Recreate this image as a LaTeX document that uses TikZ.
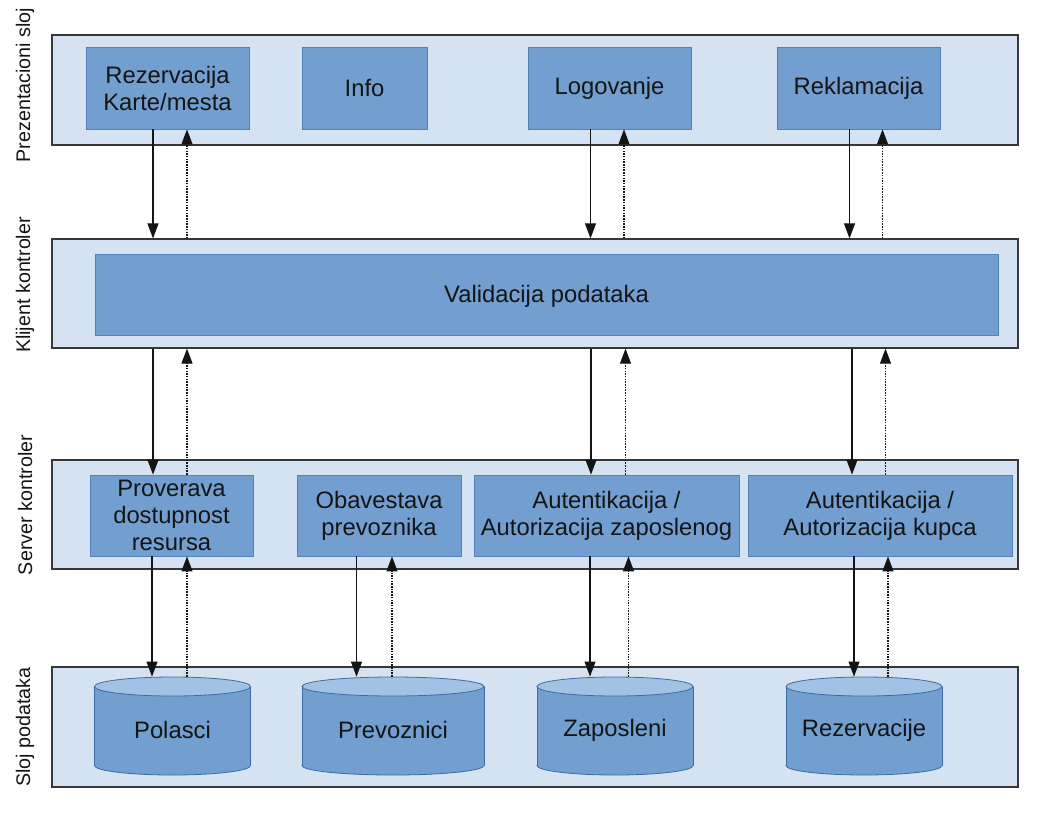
\documentclass[tikz,border=0pt]{standalone}
\usepackage{fontspec}
\setmainfont{Liberation Sans}
\usetikzlibrary{arrows.meta,shapes.geometric}

\definecolor{bandfill}{RGB}{213,226,242}
\definecolor{boxfill}{RGB}{114,159,207}
\definecolor{boxline}{RGB}{84,128,184}
\definecolor{cyltop}{RGB}{162,194,228}
\definecolor{cylline}{RGB}{64,106,162}
\definecolor{edgegray}{RGB}{55,55,55}
\definecolor{inkblack}{RGB}{20,20,20}

% database cylinder: name, centre x, width, label
\newcommand{\datastore}[4]{%
  \filldraw[fill=boxfill, draw=cylline, line width=0.8pt]
    (#2,765.5) ellipse[x radius=#3/2, y radius=9.5];
  \fill[boxfill] (#2-#3/2,686.5) rectangle (#2+#3/2,765.5);
  \draw[cylline, line width=0.8pt]
    (#2-#3/2,686.5) -- (#2-#3/2,765.5)
    (#2+#3/2,686.5) -- (#2+#3/2,765.5);
  \node[cyltopstyle, minimum width=#3pt] (#1) at (#2,686.5) {};
  \node[comptext] (#1-label) at (#2,730) {#4};
}

% vertical request / response connectors at a given x
\newcommand{\req}[3]{\draw[reqline] (#1,0 |- #2) -- (#1,0 |- #3);}
\newcommand{\resp}[3]{\draw[respline] (#1,0 |- #2) -- (#1,0 |- #3);}

\begin{document}
\begin{tikzpicture}[x=1pt,y=-1pt,
  band/.style={draw=edgegray, line width=1.2pt, fill=bandfill,
    minimum width=966pt, inner sep=0pt},
  comptext/.style={inner sep=0pt, align=center, text=inkblack,
    font=\fontsize{23.8}{27}\selectfont},
  comp/.style={comptext, draw=boxline, line width=0.8pt, fill=boxfill},
  cyltopstyle/.style={ellipse, draw=cylline, line width=0.8pt, fill=cyltop,
    inner sep=0pt, minimum height=19pt},
  layer/.style={rotate=90, inner sep=0pt, text=inkblack,
    font=\fontsize{19.7}{22}\selectfont},
  reqline/.style={draw=inkblack, line width=1.1pt,
    -{Triangle[length=15pt,width=11pt]}},
  respline/.style={draw=inkblack, line width=1.1pt,
    dash pattern=on 1.5pt off 1.2pt,
    -{Triangle[length=15pt,width=11pt]}}
]
\useasboundingbox (0,0) rectangle (1056,816);

% layer bands
\node[band, minimum height=110pt] (pband) at (535,90) {};
\node[band, minimum height=109pt] (kband) at (535,293.5) {};
\node[band, minimum height=109pt] (sband) at (535,514.5) {};
\node[band, minimum height=120pt] (dband) at (535,727) {};

% layer titles
\node[layer] (lp) at (25,85) {Prezentacioni sloj};
\node[layer] (lk) at (25,285) {Klijent kontroler};
\node[layer] (ls) at (25,505) {Server kontroler};
\node[layer] (ld) at (25,727) {Sloj podataka};

% presentation layer
\node[comp, minimum width=163pt, minimum height=82pt] (rez) at (167.5,88) {Rezervacija\\Karte/mesta};
\node[comp, minimum width=125pt, minimum height=82pt] (info) at (364.5,88) {Info};
\node[comp, minimum width=163pt, minimum height=82pt] (logo) at (609.5,88) {Logovanje};
\node[comp, minimum width=163pt, minimum height=82pt] (rekl) at (858.5,88) {Reklamacija};

% client controller
\node[comp, minimum width=903pt, minimum height=81pt, text depth=2pt] (valid) at (546.5,294.5) {Validacija podataka};

% server controller
\node[comp, minimum width=163pt, minimum height=81pt] (prov) at (171.5,515.5) {Proverava\\dostupnost\\resursa};
\node[comp, minimum width=164pt, minimum height=81pt] (obav) at (379,515.5) {Obavestava\\prevoznika};
\node[comp, minimum width=265pt, minimum height=81pt] (autz) at (606.5,515.5) {Autentikacija /\\Autorizacija zaposlenog};
\node[comp, minimum width=264pt, minimum height=81pt] (autk) at (880,515.5) {Autentikacija /\\Autorizacija kupca};

% data layer
\datastore{polasci}{172.5}{156}{Polasci}
\datastore{prevoznici}{393}{182}{Prevoznici}
\datastore{zaposleni}{615}{156}{Zaposleni}
\datastore{rezervacije}{864}{156}{Rezervacije}

% requests (down)
\req{153}{rez.south}{kband.north}
\req{153}{kband.south}{prov.north}
\req{152}{prov.south}{polasci.north}
\req{356.5}{obav.south}{prevoznici.north}
\req{590.5}{logo.south}{kband.north}
\req{591}{kband.south}{autz.north}
\req{590}{autz.south}{zaposleni.north}
\req{849.5}{rekl.south}{kband.north}
\req{852}{kband.south}{autk.north}
\req{854}{autk.south}{rezervacije.north}

% responses (up)
\resp{187}{kband.north}{rez.south}
\resp{187}{prov.north}{kband.south}
\resp{187}{polasci.north}{prov.south}
\resp{392}{prevoznici.north}{obav.south}
\resp{624}{kband.north}{logo.south}
\resp{625.5}{autz.north}{kband.south}
\resp{628.5}{zaposleni.north}{autz.south}
\resp{882.5}{kband.north}{rekl.south}
\resp{885.5}{autk.north}{kband.south}
\resp{888}{rezervacije.north}{autk.south}
\end{tikzpicture}
\end{document}
